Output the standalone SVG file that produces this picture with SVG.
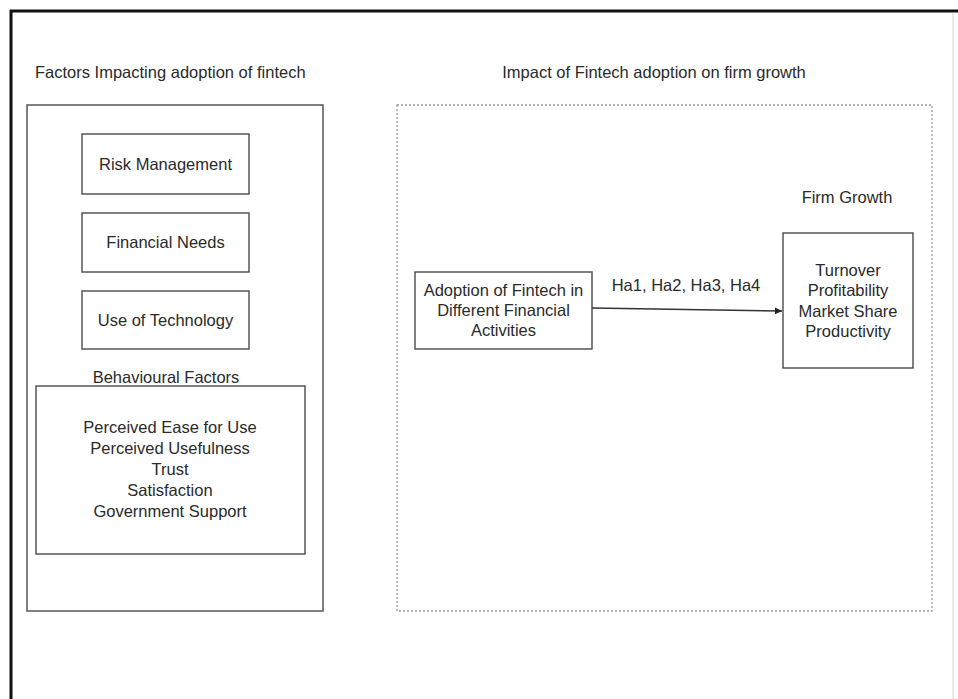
<svg xmlns="http://www.w3.org/2000/svg" width="958" height="699" viewBox="0 0 958 699">
<style>
text{font-family:"Liberation Sans",Arial,sans-serif;font-size:16.5px;fill:#2a2a2a}
.c{text-anchor:middle}
.box{fill:none;stroke:#555;stroke-width:1.5}
.dash{fill:none;stroke:#999;stroke-width:1.3;stroke-dasharray:2 2}
</style>
<defs>
<marker id="ah" markerWidth="8" markerHeight="8" refX="7" refY="4" orient="auto" markerUnits="userSpaceOnUse">
<path d="M0,0.5 L7,4 L0,7.5 Z" fill="#222"/>
</marker>
</defs>
<rect width="958" height="699" fill="#fff"/>
<g id="frame">
<line x1="10" y1="11" x2="958" y2="11" stroke="#111" stroke-width="3"/>
<line x1="11" y1="10" x2="11" y2="699" stroke="#111" stroke-width="3"/>
<line x1="953" y1="13" x2="953" y2="699" stroke="#e4e4e4" stroke-width="1.5"/>
</g>
<g id="left-panel">
<text x="35" y="78">Factors Impacting adoption of fintech</text>
<rect class="box" x="27" y="105" width="296" height="506"/>
</g>
<g id="risk-management">
<rect class="box" x="82" y="134" width="167" height="60"/>
<text class="c" x="165.5" y="170">Risk Management</text>
</g>
<g id="financial-needs">
<rect class="box" x="82" y="213" width="167" height="59"/>
<text class="c" x="165.5" y="248">Financial Needs</text>
</g>
<g id="use-of-technology">
<rect class="box" x="82" y="291" width="167" height="58"/>
<text class="c" x="165.5" y="326">Use of Technology</text>
</g>
<g id="behavioural-factors">
<text class="c" x="166" y="383">Behavioural Factors</text>
<rect class="box" x="36" y="386" width="269" height="168"/>
<text class="c" x="170" y="433">Perceived Ease for Use</text>
<text class="c" x="170" y="454">Perceived Usefulness</text>
<text class="c" x="170" y="475">Trust</text>
<text class="c" x="170" y="496">Satisfaction</text>
<text class="c" x="170" y="517">Government Support</text>
</g>
<g id="right-panel">
<text class="c" x="654" y="78">Impact of Fintech adoption on firm growth</text>
<rect class="dash" x="397" y="105" width="535" height="506"/>
</g>
<g id="adoption">
<rect class="box" x="415" y="272" width="177" height="77"/>
<text class="c" x="503.5" y="296">Adoption of Fintech in</text>
<text class="c" x="503.5" y="316">Different Financial</text>
<text class="c" x="503.5" y="336">Activities</text>
</g>
<g id="firm-growth">
<text class="c" x="847" y="203">Firm Growth</text>
<rect class="box" x="783" y="233" width="130" height="135"/>
<text class="c" x="848" y="276">Turnover</text>
<text class="c" x="848" y="296">Profitability</text>
<text class="c" x="848" y="317">Market Share</text>
<text class="c" x="848" y="337">Productivity</text>
</g>
<g id="connectors">
<line x1="592" y1="308" x2="782" y2="311" stroke="#333" stroke-width="1.5" marker-end="url(#ah)"/>
<text class="c" x="686" y="291">Ha1, Ha2, Ha3, Ha4</text>
</g>
</svg>
